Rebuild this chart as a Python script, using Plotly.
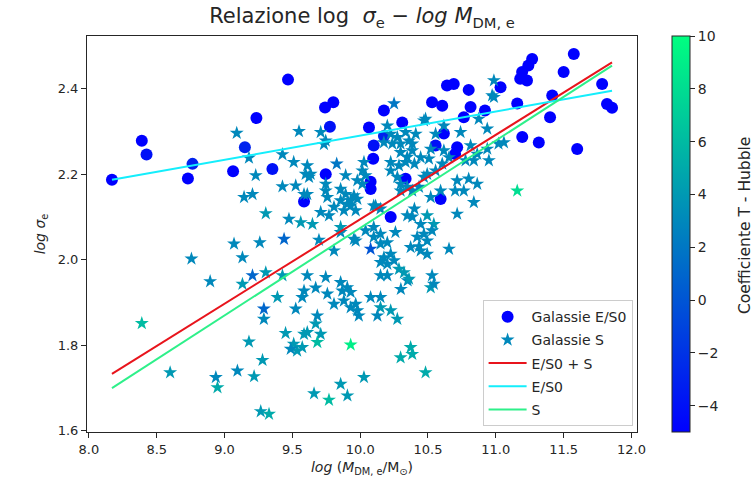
import plotly.graph_objects as go

# ---- Data: E/S0 galaxies (circles) ----
es0_x = [8.17, 8.39, 8.425, 8.764, 8.73, 9.063, 9.15, 9.235, 9.353, 9.468, 9.586, 9.741, 9.802, 9.777,
         9.746, 10.175, 10.065, 10.31, 10.10, 10.096, 10.077, 10.077, 10.335, 10.225, 10.175, 10.53,
         10.605, 10.64, 10.69, 10.80, 10.814, 10.764, 10.92, 11.035, 11.158, 11.194, 11.23, 11.268,
         11.24, 11.18, 11.50, 11.575, 11.416, 11.40, 11.195, 11.317, 11.60, 11.784, 11.82, 11.857,
         10.70, 10.617, 10.593, 10.556, 10.715]
es0_y = [2.187, 2.278, 2.246, 2.224, 2.19, 2.207, 2.263, 2.331, 2.212, 2.421, 2.136, 2.356, 2.368, 2.311,
         2.20, 2.349, 2.309, 2.321, 2.267, 2.236, 2.182, 2.165, 2.189, 2.10, 2.289, 2.368,
         2.36, 2.407, 2.411, 2.397, 2.357, 2.333, 2.349, 2.403, 2.365, 2.439, 2.419, 2.469,
         2.454, 2.423, 2.439, 2.481, 2.384, 2.333, 2.287, 2.274, 2.259, 2.411, 2.364, 2.355,
         2.247, 2.295, 2.142, 2.267, 2.263]
es0_t = [-5, -5, -4, -3, -5, -5, -3, -5, -4, -5, -5, -5, -5, -4,
         -5, -5, -5, -5, -4, -5, -5, -5, -5, -5, -3, -5,
         -5, -5, -5, -5, -5, -5, -5, -5, -5, -5, -5, -5,
         -5, -5, -5, -5, -5, -5, -5, -5, -5, -5, -5, -5,
         -5, -5, -5, -4, -5]

# ---- Data: S galaxies (stars): (log M, log sigma, T) ----
s_pts = [
    (9.09, 2.296, 3), (9.549, 2.30, 3), (9.709, 2.298, 3), (9.746, 2.278, 3), (9.18, 2.238, 3),
    (9.427, 2.246, 3), (9.51, 2.228, 3), (9.23, 2.197, 3), (9.61, 2.22, 3), (9.635, 2.20, 3),
    (9.827, 2.224, 2), (9.893, 2.197, 3), (9.427, 2.171, 3), (9.525, 2.173, 3), (9.144, 2.146, 3),
    (9.206, 2.153, 3), (9.61, 2.153, 3), (9.746, 2.161, 3), (9.856, 2.165, 3), (9.304, 2.108, 4),
    (9.475, 2.095, 3), (9.562, 2.087, 4), (9.648, 2.083, 4), (9.709, 2.111, 3), (9.77, 2.103, 3),
    (9.905, 2.13, 3), (9.954, 2.15, 3), (9.88, 2.115, 3), (9.07, 2.037, 3), (9.26, 2.04, 3),
    (9.439, 2.048, 1), (9.132, 2.005, 3), (8.756, 2.002, 3), (9.696, 2.046, 3), (9.807, 2.021, 3),
    (9.856, 2.064, 3), (9.954, 2.048, 3), (9.304, 1.97, 4), (9.206, 1.963, 1), (9.132, 1.943, 4),
    (8.894, 1.949, 3), (9.427, 1.963, 4), (9.61, 1.963, 3), (9.746, 1.959, 3), (9.672, 1.934, 3),
    (9.586, 1.927, 3), (9.39, 1.912, 4), (9.573, 1.912, 3), (9.758, 1.92, 3), (9.856, 1.947, 3),
    (9.905, 1.935, 3), (9.88, 1.904, 3), (9.93, 1.888, 3), (9.979, 1.881, 3), (9.807, 1.896, 3),
    (9.29, 1.885, 1), (9.29, 1.861, 3), (9.525, 1.885, 3), (8.39, 1.851, 6), (9.45, 1.828, 4),
    (9.18, 1.808, 4), (9.61, 1.83, 4), (9.672, 1.85, 4), (9.709, 1.826, 4), (9.684, 1.807, 6),
    (9.51, 1.803, 4), (9.535, 1.787, 4), (9.488, 1.791, 3), (9.573, 1.795, 4), (9.93, 1.801, 9),
    (9.28, 1.765, 4), (8.599, 1.736, 4), (9.095, 1.74, 3), (9.218, 1.727, 4), (8.936, 1.725, 3),
    (8.948, 1.701, 5), (9.267, 1.645, 4), (9.328, 1.639, 5), (9.66, 1.687, 4), (9.77, 1.672, 6),
    (9.856, 1.709, 4), (9.906, 1.682, 4), (9.856, 2.076, 4), (9.93, 2.126, 3), (9.967, 2.115, 3),
    (10.10, 2.126, 3), (10.15, 2.119, 3), (9.967, 2.044, 3), (10.04, 2.068, 3), (10.10, 2.076, 3),
    (10.15, 2.06, 3), (10.10, 2.053, 3), (10.077, 2.025, 0), (10.15, 2.037, 3), (10.20, 2.04, 3),
    (10.26, 2.064, 3), (10.175, 2.005, 3), (10.225, 2.013, 3), (10.15, 1.994, 3), (10.20, 1.99, 3),
    (10.25, 1.998, 3), (10.15, 1.963, 3), (10.20, 1.963, 3), (10.286, 1.978, 4), (10.323, 1.97, 4),
    (10.35, 1.951, 3), (10.30, 1.931, 3), (10.40, 2.119, 3), (10.384, 2.10, 3), (10.446, 2.083, 3),
    (10.494, 2.103, 4), (10.543, 2.083, 4), (10.53, 2.068, 3), (10.47, 2.06, 3), (10.42, 2.053, 3),
    (10.494, 2.044, 3), (10.446, 2.021, 3), (10.494, 2.013, 3), (10.434, 2.031, 3), (10.53, 1.963, 3),
    (10.52, 1.935, 4), (10.543, 1.943, 3), (9.868, 1.927, 3), (9.93, 1.924, 3), (9.967, 1.896, 3),
    (9.99, 1.869, 3), (9.684, 1.869, 3), (10.077, 1.912, 3), (10.15, 1.912, 3), (10.15, 1.888, 4),
    (10.127, 1.869, 3), (10.225, 1.881, 4), (10.274, 1.861, 4), (9.586, 1.826, 4), (10.298, 1.771, 5),
    (10.372, 1.795, 5), (10.384, 1.779, 5), (10.028, 1.725, 4), (10.482, 1.736, 5), (10.655, 2.025, 3),
    (10.36, 1.955, 4), (10.372, 2.029, 3), (10.838, 2.134, 3), (10.715, 2.107, 3), (10.973, 2.384, 3),
    (10.47, 2.325, 3), (10.617, 2.313, 3), (10.74, 2.298, 3), (10.937, 2.306, 3), (10.41, 2.294, 3),
    (10.384, 2.271, 3), (10.556, 2.294, 3), (10.52, 2.259, 3), (10.446, 2.239, 3), (10.507, 2.236, 3),
    (10.617, 2.255, 3), (10.655, 2.239, 3), (10.605, 2.224, 3), (10.556, 2.208, 3), (10.494, 2.20, 3),
    (10.814, 2.267, 3), (10.863, 2.247, 3), (10.937, 2.259, 3), (10.949, 2.232, 3), (10.838, 2.232, 3),
    (10.777, 2.232, 3), (11.02, 2.271, 3), (11.06, 2.274, 3), (10.715, 2.185, 3), (10.80, 2.189, 3),
    (10.863, 2.177, 3), (10.764, 2.161, 3), (10.70, 2.161, 3), (11.158, 2.161, 8), (10.40, 2.224, 3),
    (10.47, 2.193, 3), (10.434, 2.17, 3), (10.384, 2.161, 3), (10.52, 2.146, 3), (10.593, 2.161, 3),
    (10.25, 2.365, 2), (9.733, 2.27, 3), (10.20, 2.313, 3), (10.225, 2.294, 3), (10.274, 2.286, 3),
    (10.237, 2.271, 3), (10.298, 2.271, 3), (10.36, 2.278, 3), (10.335, 2.298, 3), (10.175, 2.274, 3),
    (10.298, 2.251, 3), (10.347, 2.24, 3), (10.384, 2.255, 3), (9.598, 2.20, 3), (9.623, 2.193, 3),
    (10.028, 2.228, 3), (10.016, 2.208, 3), (10.04, 2.197, 3), (10.225, 2.228, 3), (10.225, 2.208, 3),
    (10.286, 2.22, 3), (10.335, 2.228, 3), (10.274, 2.193, 3), (10.298, 2.177, 3), (10.347, 2.17, 3),
    (10.298, 2.161, 3), (9.586, 2.153, 3), (9.746, 2.177, 3), (9.758, 2.146, 3), (9.893, 2.153, 3),
    (9.93, 2.138, 3), (9.856, 2.138, 3), (9.979, 2.142, 3), (9.807, 2.123, 3), (9.979, 2.185, 3),
    (10.016, 2.177, 3), (10.114, 2.126, 3), (10.347, 2.103, 3), (10.986, 2.419, 3), (10.986, 2.38, 3),
    (10.874, 2.329, 3), (10.482, 2.329, 3),
]
s_x = [p[0] for p in s_pts]
s_y = [p[1] for p in s_pts]
s_t = [p[2] for p in s_pts]

# ---- Linear fits (slope, intercept) ----
fit_all = (0.1975, 0.1194)   # E/S0 + S
fit_es0 = (0.0564, 1.726)    # E/S0
fit_s = (0.2045, 0.029)      # S

all_x = es0_x + s_x
line_x = [min(all_x), max(all_x)]

def line(fit):
    return [fit[0] * x + fit[1] for x in line_x]

winter = [[0, "rgb(0,0,255)"], [1, "rgb(0,255,128)"]]
FONT = "DejaVu Sans"
TXT = "#262626"

# plot area in pixels
L, R, T, B = 87, 637, 36, 432
W, H = 753, 499
PW, PH = R - L, B - T

fig = go.Figure()
fig.add_trace(go.Scatter(
    x=es0_x, y=es0_y, mode="markers", name="Galassie E/S0", showlegend=False,
    marker=dict(symbol="circle", size=12, color=es0_t, coloraxis="coloraxis", line=dict(width=0)),
))
fig.add_trace(go.Scatter(
    x=s_x, y=s_y, mode="markers", name="Galassie S", showlegend=False,
    marker=dict(symbol="star", size=10.5, color=s_t, coloraxis="coloraxis", line=dict(width=0)),
))
# legend samples with the colours the reference legend shows
fig.add_trace(go.Scatter(x=[None], y=[None], mode="markers", name="Galassie E/S0", legendgroup="a",
                         marker=dict(symbol="circle", size=12, color="rgb(0,0,255)")))
fig.add_trace(go.Scatter(x=[None], y=[None], mode="markers", name="Galassie S", legendgroup="b",
                         marker=dict(symbol="star", size=10.5, color="rgb(0,136,187)")))
fig.add_trace(go.Scatter(x=line_x, y=line(fit_all), mode="lines", name="E/S0 + S", legendgroup="c",
                         line=dict(color="#e8141c", width=2)))
fig.add_trace(go.Scatter(x=line_x, y=line(fit_es0), mode="lines", name="E/S0", legendgroup="d",
                         line=dict(color="#14eefc", width=2)))
fig.add_trace(go.Scatter(x=line_x, y=line(fit_s), mode="lines", name="S", legendgroup="e",
                         line=dict(color="#2ef08a", width=2)))

axis_common = dict(showline=True, mirror=True, linecolor=TXT, linewidth=1, ticks="outside",
                   ticklen=5, tickcolor=TXT, showgrid=False, zeroline=False,
                   tickfont=dict(family=FONT, size=13, color=TXT))

fig.update_layout(
    width=W, height=H,
    margin=dict(l=L, r=W - R, t=T, b=H - B),
    paper_bgcolor="white", plot_bgcolor="white",
    font=dict(family=FONT, color=TXT),
    title=dict(text="Relazione log  <i>σ</i><sub>e</sub> − <i>log M</i><sub>DM, e</sub>",
               x=(L + R) / 2 / W, xanchor="center", y=1 - 16 / H, yanchor="middle",
               font=dict(family=FONT, size=21, color=TXT)),
    xaxis=dict(range=[7.986, 12.041], tickvals=[8.0, 8.5, 9.0, 9.5, 10.0, 10.5, 11.0, 11.5, 12.0],
               ticktext=["8.0", "8.5", "9.0", "9.5", "10.0", "10.5", "11.0", "11.5", "12.0"],
               title=dict(text="<i>log</i> (<i>M</i><sub>DM, e</sub>/M<sub>⊙</sub>)",
                          font=dict(family=FONT, size=14, color=TXT), standoff=6),
               **axis_common),
    yaxis=dict(range=[1.597, 2.523], tickvals=[1.6, 1.8, 2.0, 2.2, 2.4],
               ticktext=["1.6", "1.8", "2.0", "2.2", "2.4"],
               title=dict(text="<i>log σ</i><sub>e</sub>",
                          font=dict(family=FONT, size=14, color=TXT), standoff=8),
               **axis_common),
    coloraxis=dict(
        colorscale=winter, cmin=-5, cmax=10,
        colorbar=dict(
            x=(672 - L) / PW, xanchor="left", xref="paper", xpad=0, ypad=0,
            y=0.5, yanchor="middle", len=1.0,
            thickness=18, outlinewidth=1, outlinecolor=TXT,
            tickvals=[-4, -2, 0, 2, 4, 6, 8, 10], ticktext=["−4", "−2", "0", "2", "4", "6", "8", "10"],
            ticks="outside", ticklen=5, tickcolor=TXT,
            tickfont=dict(family=FONT, size=14, color=TXT),
        ),
    ),
    annotations=[dict(
        text="Coefficiente T - Hubble", textangle=-90, showarrow=False,
        xref="paper", yref="paper", x=(745 - L) / PW, y=0.52, xanchor="center", yanchor="middle",
        font=dict(family=FONT, size=15.5, color=TXT),
    )],
    legend=dict(x=0.992, y=0.015, xanchor="right", yanchor="bottom", bgcolor="rgba(255,255,255,0.9)",
                bordercolor="#cccccc", borderwidth=1, font=dict(family=FONT, size=14, color=TXT),
                tracegroupgap=2, itemwidth=38),
    showlegend=True,
)

fig.write_html("out.html")
